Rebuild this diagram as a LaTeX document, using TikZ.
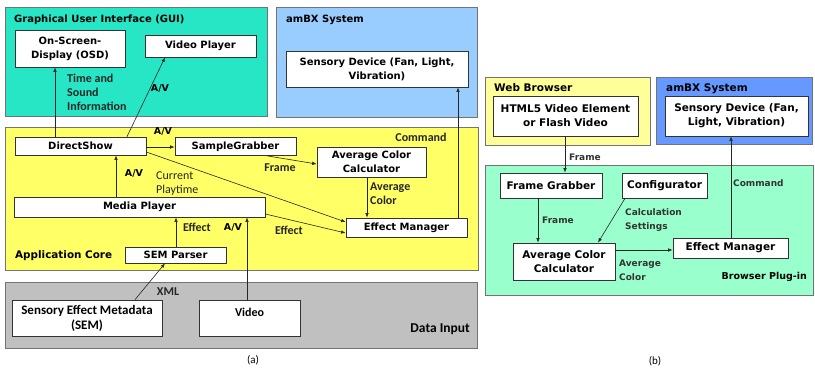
\documentclass[tikz,border=0pt]{standalone}
\usepackage{fontspec}
\setmainfont{DejaVu Sans}
\newfontfamily\calfont{Carlito}
\usetikzlibrary{arrows.meta}
\definecolor{guic}{RGB}{38,230,198}
\definecolor{ambxa}{RGB}{153,204,255}
\definecolor{corec}{RGB}{255,255,102}
\definecolor{datac}{RGB}{192,192,192}
\definecolor{webc}{RGB}{255,255,153}
\definecolor{ambxb}{RGB}{102,153,255}
\definecolor{plugc}{RGB}{153,255,204}
\tikzset{
  panel/.style={draw=black!55, line width=0.9pt, inner sep=0pt},
  box/.style={draw=black!80, fill=white, line width=0.7pt, inner sep=1pt, align=center, font=\fontsize{10}{14}\selectfont\bfseries},
  boxb/.style={box, font=\fontsize{10.5}{14}\selectfont\bfseries},
  boxc/.style={box, font=\calfont\fontsize{13}{15}\selectfont\bfseries},
  title/.style={inner sep=0pt, font=\fontsize{10}{12}\selectfont\bfseries},
  titlec/.style={inner sep=0pt, font=\calfont\fontsize{13.5}{15}\selectfont\bfseries},
  lab/.style={inner sep=0pt, align=left, text=black!85, font=\calfont\fontsize{12}{14}\selectfont\bfseries},
  labav/.style={inner sep=0pt, font=\fontsize{9.5}{12}\selectfont\bfseries},
  labb/.style={inner sep=0pt, align=left, text=black!80, font=\fontsize{9}{14}\selectfont\bfseries},
  capt/.style={inner sep=0pt, font=\calfont\fontsize{11}{13}\selectfont},
  arr/.style={-{Latex[length=4.5pt,width=3.5pt]}, line width=0.6pt, draw=black!85},
}
\begin{document}
\begin{tikzpicture}[x=1pt,y=-1pt]
\useasboundingbox (0,0) rectangle (815,373);
\fill[white] (0,0) rectangle (815,373);

% ---------- panel (a) ----------
\node[panel, fill=guic, minimum width=262pt, minimum height=109pt] (gui) at (136,61.5) {};
\node[title, anchor=west] (guit) at (14,20) {Graphical User Interface (GUI)};
\node[box, minimum width=110pt, minimum height=37pt] (osd) at (70,48.5) {On-Screen-\\Display (OSD)};
\node[box, minimum width=111pt, minimum height=22pt] (vp) at (200.5,46) {Video Player};

\node[panel, fill=ambxa, minimum width=201pt, minimum height=110pt] (ambxa) at (376.5,62) {};
\node[title, anchor=west] (ambxat) at (286,20) {amBX System};
\node[box, minimum width=182pt, minimum height=36pt] (sensa) at (377,69) {Sensory Device (Fan, Light,\\Vibration)};

\node[panel, fill=corec, minimum width=473pt, minimum height=143pt] (core) at (241.5,198.5) {};
\node[title, anchor=west, font=\fontsize{10.4}{12}\selectfont\bfseries] (coret) at (15,256) {Application Core};
\node[box, minimum width=131pt, minimum height=18pt] (ds) at (80.5,146) {DirectShow};
\node[box, minimum width=121pt, minimum height=18pt] (sg) at (235.5,146.5) {SampleGrabber};
\node[box, minimum width=109pt, minimum height=30pt] (acc) at (371.5,162) {Average Color\\Calculator};
\node[box, minimum width=251pt, minimum height=20pt] (mp) at (139.5,207) {Media Player};
\node[box, minimum width=121pt, minimum height=19pt] (em) at (406.5,227.5) {Effect Manager};
\node[box, minimum width=101pt, minimum height=16pt] (semp) at (175.5,255) {SEM Parser};

\node[panel, fill=datac, minimum width=472pt, minimum height=66pt] (data) at (241,315) {};
\node[titlec, anchor=east] (datat) at (470,329) {Data Input};
\node[boxc, minimum width=150pt, minimum height=36pt] (sem) at (87,318) {Sensory Effect Metadata\\(SEM)};
\node[boxc, minimum width=101pt, minimum height=36pt, font=\calfont\fontsize{12}{15}\selectfont\bfseries, text depth=12pt] (vid) at (249.5,318) {Video};

% labels (a)
\node[lab, anchor=west] (l1) at (67,92) {Time and\\Sound\\Information};
\node[labav] (l2) at (160,88) {A/V};
\node[labav] (l3) at (163,131) {A/V};
\node[lab] (l4) at (280,168) {Frame};
\node[labav] (l5) at (134,173) {A/V};
\node[lab, anchor=west, font=\calfont\fontsize{12}{14}\selectfont] (l6) at (156,184) {Current\\Playtime};
\node[lab] (l7) at (289,230) {Effect};
\node[lab, anchor=west] (l8) at (370,194) {Average\\Color};
\node[lab] (l9) at (421,137) {Command};
\node[lab] (l10) at (197,227) {Effect};
\node[labav] (l11) at (233,227) {A/V};
\node[lab] (l12) at (168,292) {XML};
\node[capt] (capa) at (253,360) {(a)};

% arrows (a)
\draw[arr] (ds.north -| 55,0) -- (osd.south -| 55,0);
\draw[arr] (ds.north -| 127,0) -- (vp.south -| 165,0);
\draw[arr] (ds.east |- 0,147) -- (sg.west |- 0,147);
\draw[arr] (sg.south -| 267,0) -- (acc.west |- 0,164);
\draw[arr] (mp.north -| 116,0) -- (ds.south -| 116,0);
\draw[arr] (ds.east |- 0,152) -- (em.west |- 0,222);
\draw[arr] (mp.east |- 0,214) -- (em.west |- 0,233);
\draw[arr] (acc.south -| 367,0) -- (em.north -| 367,0);
\draw[arr] (em.north -| 458,0) -- (sensa.south -| 458,0);
\draw[arr] (semp.north -| 176,0) -- (mp.south -| 176,0);
\draw[arr] (vid.north -| 247,0) -- (mp.south -| 247,0);
\draw[arr] (sem.north -| 135,0) -- (semp.south -| 165,0);

% ---------- panel (b) ----------
\node[panel, fill=webc, minimum width=165pt, minimum height=68pt] (web) at (567.5,111) {};
\node[title, anchor=west, font=\fontsize{10.5}{12}\selectfont\bfseries] (webt) at (494,88) {Web Browser};
\node[boxb, minimum width=145pt, minimum height=40pt] (html) at (565.5,116) {HTML5 Video Element\\or Flash Video};

\node[panel, fill=ambxb, minimum width=156pt, minimum height=67pt] (ambxb) at (734,110.5) {};
\node[title, anchor=west, font=\fontsize{10.5}{12}\selectfont\bfseries] (ambxbt) at (666,89) {amBX System};
\node[boxb, minimum width=143pt, minimum height=40pt] (sensb) at (736.5,116) {Sensory Device (Fan,\\Light, Vibration)};

\node[panel, fill=plugc, minimum width=328pt, minimum height=130pt] (plug) at (649,230) {};
\node[title, anchor=east, font=\fontsize{9.5}{12}\selectfont\bfseries] (plugt) at (807,277) {Browser Plug-in};
\node[boxb, minimum width=102pt, minimum height=25pt] (fg) at (551,185.5) {Frame Grabber};
\node[boxb, minimum width=85pt, minimum height=25pt] (conf) at (664.5,185.5) {Configurator};
\node[boxb, minimum width=102pt, minimum height=37pt] (accb) at (564,261.5) {Average Color\\Calculator};
\node[boxb, minimum width=115pt, minimum height=20pt] (emb) at (730.5,248) {Effect Manager};

% labels (b)
\node[labb, anchor=west] (m1) at (569,157) {Frame};
\node[labb, anchor=west] (m2) at (542,220) {Frame};
\node[labb, anchor=west] (m3) at (625,220) {Calculation\\Settings};
\node[labb, anchor=west] (m4) at (619,270) {Average\\Color};
\node[labb, anchor=west] (m5) at (733,183) {Command};
\node[capt] (capb) at (655,361) {(b)};

% arrows (b)
\draw[arr] (html.south -| 565,0) -- (fg.north -| 565,0);
\draw[arr] (fg.south -| 538,0) -- (accb.north -| 538,0);
\draw[arr] (conf.south -| 625,0) -- (accb.north -| 598,0);
\draw[arr] (accb.east |- 0,250) -- (emb.west |- 0,250);
\draw[arr] (emb.north -| 731,0) -- (sensb.south -| 731,0);
\end{tikzpicture}
\end{document}
